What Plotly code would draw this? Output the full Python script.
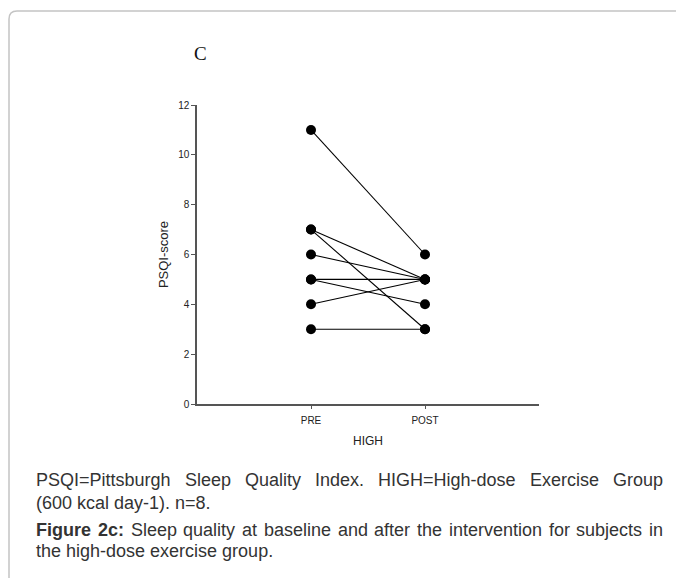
import plotly.graph_objects as go

# ---- data ----
phases = ["PRE", "POST"]
pre_scores = [11, 7, 7, 6, 5, 5, 4, 3]
post_scores = [6, 5, 3, 5, 5, 4, 5, 3]
y_ticks = [0, 2, 4, 6, 8, 10, 12]
y_title = "PSQI-score"
x_title = "HIGH"
panel_label = "C"
caption_line1_words = ["PSQI=Pittsburgh", "Sleep", "Quality", "Index.",
                       "HIGH=High-dose", "Exercise", "Group"]
caption_line2 = "(600 kcal day-1). n=8."
caption_line3_words = ["<b>Figure</b>", "<b>2c:</b>", "Sleep", "quality", "at", "baseline",
                       "and", "after", "the", "intervention", "for", "subjects", "in"]
caption_last = "the high-dose exercise group."

W, H = 676, 581
L, R, T, B = 197, 539, 105, 404  # plot area in pixels


def px(x):
    return (x - L) / (R - L)


def py(y):
    return (B - y) / (B - T)


fig = go.Figure()
for a, b in zip(pre_scores, post_scores):
    fig.add_trace(go.Scatter(
        x=phases, y=[a, b], mode="lines+markers",
        line=dict(color="black", width=1.1),
        marker=dict(color="black", size=10),
        cliponaxis=False, showlegend=False, hoverinfo="skip"))

fig.update_layout(
    width=W, height=H,
    margin=dict(l=L, r=W - R, t=T, b=H - B),
    paper_bgcolor="white", plot_bgcolor="white",
    font=dict(family="Liberation Sans, Arial, sans-serif", color="#222"),
    xaxis=dict(type="category", range=[-1, 2], showgrid=False, zeroline=False,
               showline=True, linecolor="#555", linewidth=1.5,
               ticks="outside", ticklen=3, tickcolor="#555", tickwidth=1,
               ticklabelstandoff=3,
               tickfont=dict(size=10, color="#222"),
               title=dict(text=x_title, font=dict(size=12, color="#222"), standoff=12)),
    yaxis=dict(range=[0, 12], tickvals=y_ticks, showgrid=False, zeroline=False,
               showline=True, linecolor="#555", linewidth=1.5,
               ticks="outside", ticklen=4, tickcolor="#555", tickwidth=1,
               tickfont=dict(size=10, color="#222"),
               title=dict(text=y_title, font=dict(size=13, color="#222"), standoff=7)),
)

# frame (rounded top-left corner)
x0, y0, xe, ybot, r = 9, 11, 676, 578, 8
path = (f"M {px(x0)},{py(ybot)} L {px(x0)},{py(y0 + r)} "
        f"Q {px(x0)},{py(y0)} {px(x0 + r)},{py(y0)} L {px(xe)},{py(y0)}")
fig.add_shape(type="path", path=path, xref="paper", yref="paper",
              line=dict(color="#c4c4c4", width=1.5), layer="below")

ann = []
ann.append(dict(text=panel_label, x=px(200), y=py(54), xref="paper", yref="paper",
                showarrow=False, xanchor="center", yanchor="middle",
                font=dict(family="Liberation Serif, Times New Roman, serif", size=19, color="#111")))

cap_font = dict(size=18, color="#333")

# caption line 1 (justified)
starts1 = [34, 182.8, 243.0, 313.2, 376.4, 527.8, 611.0]
for wd, sx in zip(caption_line1_words, starts1):
    ann.append(dict(text=wd, x=px(sx), y=py(480), xref="paper", yref="paper",
                    showarrow=False, xanchor="left", yanchor="middle", font=cap_font))
ann.append(dict(text=caption_line2, x=px(34), y=py(503), xref="paper", yref="paper",
                showarrow=False, xanchor="left", yanchor="middle", font=cap_font))
# caption line 3 (justified)
starts3 = [34, 95.75, 128.5, 181.25, 240, 261.75, 335.5, 372.25, 415, 446.75,
           546.5, 574.25, 647]
for wd, sx in zip(caption_line3_words, starts3):
    ann.append(dict(text=wd, x=px(sx), y=py(530), xref="paper", yref="paper",
                    showarrow=False, xanchor="left", yanchor="middle", font=cap_font))
ann.append(dict(text=caption_last, x=px(34), y=py(551), xref="paper", yref="paper",
                showarrow=False, xanchor="left", yanchor="middle", font=cap_font))
fig.update_layout(annotations=ann)

fig.write_html("out.html", config={"displayModeBar": False},
               post_script="document.body.style.margin='0';document.body.style.overflow='hidden';")
